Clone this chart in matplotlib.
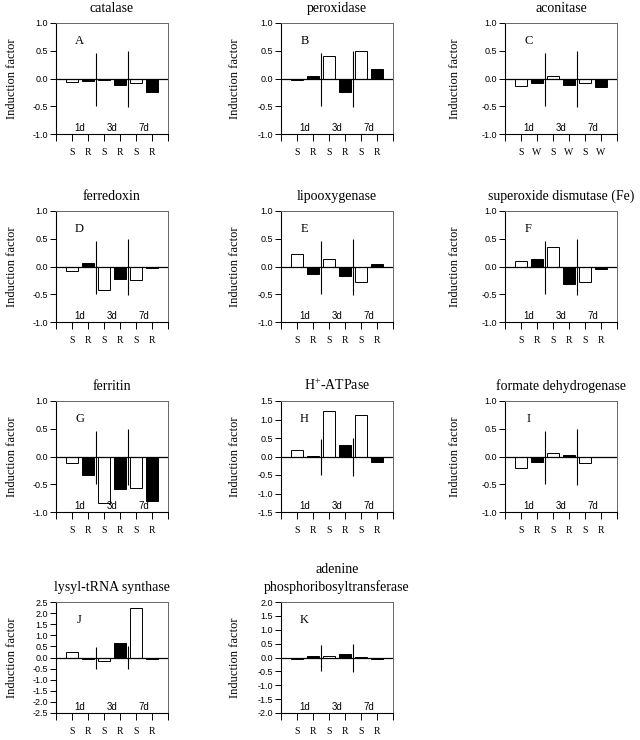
import numpy as np
import matplotlib
matplotlib.use('Agg')
import matplotlib.pyplot as plt

####################################################################################

matplotlib.rcParams['axes.unicode_minus'] = False
matplotlib.rcParams['mathtext.fontset'] = 'custom'
matplotlib.rcParams['mathtext.rm'] = 'Liberation Serif'

SERIF = 'Liberation Serif'
SANS = 'Liberation Sans'

FIG_W, FIG_H = 640, 740
AX_W, AX_H = 112, 111
COL_LEFT = [56, 281, 505]
ROW_TOP = [23, 211, 401, 602]
YLABEL_OFFSET = [44, 46, 50]

####################################################################################

# values read per panel: 1d S, 1d R, 3d S, 3d R, 7d S, 7d R
titles = ['catalase', 'peroxidase', 'aconitase',
          'ferredoxin', 'lipooxygenase', 'superoxide dismutase (Fe)',
          'ferritin', r'H$^{+}$-ATPase', 'formate dehydrogenase',
          'lysyl-tRNA synthase', 'adenine\nphosphoribosyltransferase']
letters = ['A', 'B', 'C', 'D', 'E', 'F', 'G', 'H', 'I', 'J', 'K']

catalase = [-0.06, -0.04, -0.03, -0.11, -0.08, -0.25]
peroxidase = [-0.03, 0.05, 0.40, -0.25, 0.50, 0.17]
aconitase = [-0.13, -0.08, 0.04, -0.12, -0.09, -0.16]
ferredoxin = [-0.09, 0.07, -0.43, -0.23, -0.24, -0.03]
lipooxygenase = [0.22, -0.13, 0.13, -0.18, -0.28, 0.04]
sod_fe = [0.10, 0.13, 0.36, -0.31, -0.28, -0.04]
ferritin = [-0.11, -0.33, -0.84, -0.59, -0.56, -0.81]
h_atpase = [0.18, 0.02, 1.24, 0.31, 1.13, -0.14]
formate_dh = [-0.21, -0.10, 0.06, 0.02, -0.11, 0.0]
lysyl_trna = [0.27, -0.06, -0.15, 0.64, 2.24, -0.09]
aprt = [-0.05, 0.04, 0.07, 0.14, 0.02, -0.07]

values = [catalase, peroxidase, aconitase, ferredoxin, lipooxygenase, sod_fe,
          ferritin, h_atpase, formate_dh, lysyl_trna, aprt]
y_limits = [1.0] * 7 + [1.5, 1.0, 2.5, 2.0]
bar_labels = [['S', 'R'] * 3] * 2 + [['S', 'W'] * 3] + [['S', 'R'] * 3] * 8
day_labels = ['1d', '3d', '7d']

####################################################################################

def make_axes(figure, row, col):
    left = COL_LEFT[col] / FIG_W
    bottom = 1 - (ROW_TOP[row] + AX_H) / FIG_H
    return figure.add_axes([left, bottom, AX_W / FIG_W, AX_H / FIG_H])

def draw_panel(axes, title, letter, vals, ylim, xlabels):
    x = np.arange(1, 7)
    colors = ['white', 'black'] * 3
    axes.bar(x, vals, width=0.7, color=colors, edgecolor='black', linewidth=0.7, zorder=3)
    axes.axhline(0, color='black', linewidth=0.9, zorder=4)
    axes.vlines([2.5, 4.5], [-0.5, -0.52], [0.46, 0.5], color='black', linewidth=0.8, zorder=4)

    axes.set_xlim(0, 7)
    axes.set_ylim(-ylim, ylim)
    axes.set_xticks(np.arange(0, 8))
    axes.set_xticklabels([''] + xlabels + [''], fontfamily=SERIF, fontsize=7)
    yt = np.arange(-ylim, ylim + 0.01, 0.5)
    axes.set_yticks(yt)
    axes.set_yticklabels(['%.1f' % v for v in yt], fontfamily=SANS, fontsize=6.5)
    axes.tick_params(axis='x', direction='out', length=5, width=0.7, pad=5)
    axes.tick_params(axis='y', direction='out', length=4, width=0.7, pad=2)

    for side in ['left', 'bottom']:
        axes.spines[side].set_linewidth(0.8)
    for side in ['top', 'right']:
        axes.spines[side].set_linewidth(0.7)
        axes.spines[side].set_color('#666666')

    for i, day in enumerate(day_labels):
        axes.text(1.5 + 2 * i, 0.05, day, transform=axes.get_xaxis_transform(),
                  ha='center', va='center', fontfamily=SANS, fontsize=7)
    axes.text(0.21, 0.84, letter, transform=axes.transAxes, ha='center', va='center',
              fontfamily=SERIF, fontsize=9)
    axes.set_title(title, fontfamily=SERIF, fontsize=10, pad=8, linespacing=1.35)

####################################################################################

figure = plt.figure(figsize=(FIG_W / 100, FIG_H / 100), dpi=100, facecolor='white')

for n in range(len(titles)):
    row, col = divmod(n, 3)
    axes = make_axes(figure, row, col)
    draw_panel(axes, titles[n], letters[n], values[n], y_limits[n], bar_labels[n])
    xl = (COL_LEFT[col] - YLABEL_OFFSET[col]) / FIG_W
    yl = 1 - (ROW_TOP[row] + AX_H / 2) / FIG_H
    figure.text(xl, yl, 'Induction factor', rotation=90, ha='center', va='center',
                fontfamily=SERIF, fontsize=9)

plt.savefig('out.png', dpi=100)
